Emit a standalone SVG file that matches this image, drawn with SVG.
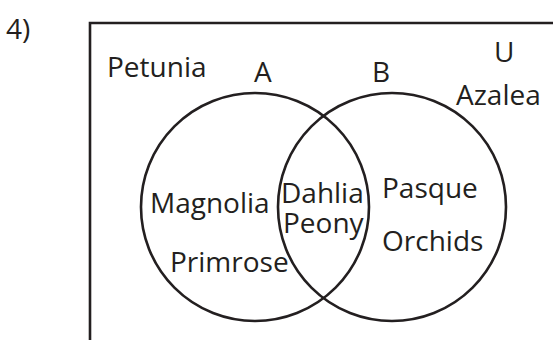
<svg xmlns="http://www.w3.org/2000/svg" width="553" height="340" viewBox="0 0 553 340">
<style>
text{font-family:"Open Sans","Liberation Sans",sans-serif;font-size:28px;fill:#231f20}
.ln{fill:none;stroke:#231f20;stroke-width:2.6}
</style>
<rect width="553" height="340" fill="#fff"/>
<text x="6" y="39">4)</text>
<g id="universe">
<path class="ln" d="M90,340 V23 H553" stroke-width="3"/>
<text x="494" y="62">U</text>
</g>
<g id="setA">
<circle class="ln" cx="255" cy="207" r="114"/>
<text x="254" y="82">A</text>
</g>
<g id="setB">
<circle class="ln" cx="392" cy="207" r="114"/>
<text x="372" y="82">B</text>
</g>
<g id="labels">
<text x="107" y="77">Petunia</text>
<text x="456" y="105">Azalea</text>
<text x="150" y="213">Magnolia</text>
<text x="170" y="272">Primrose</text>
<text x="281" y="203">Dahlia</text>
<text x="283" y="233">Peony</text>
<text x="382" y="198">Pasque</text>
<text x="382" y="251">Orchids</text>
</g>
</svg>
